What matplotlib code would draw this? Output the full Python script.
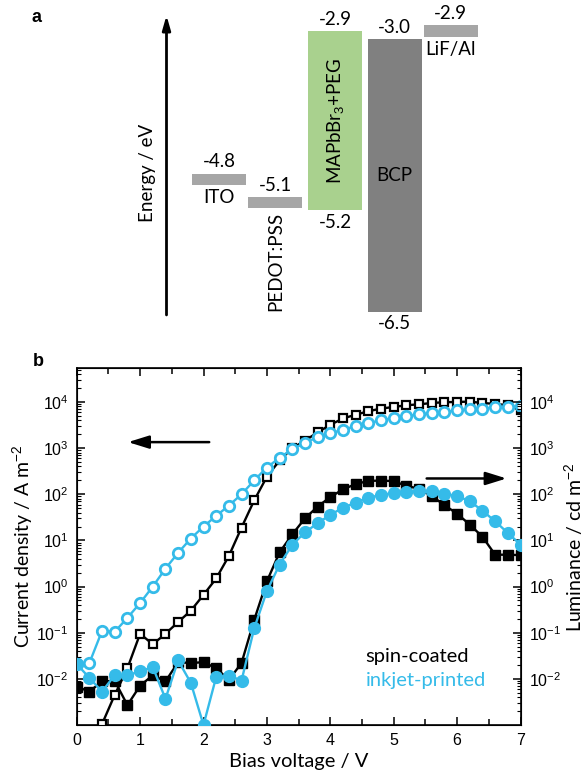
import numpy as np
import matplotlib
matplotlib.use("Agg")
import matplotlib.pyplot as plt
from matplotlib.ticker import LogLocator, NullFormatter, MultipleLocator

# panel a: energy levels (eV)
layers = ['ITO', 'PEDOT:PSS', 'MAPbBr$_3$+PEG', 'BCP', 'LiF/Al']
e_upper = [-4.8, -5.1, -2.9, -3.0, -2.9]
e_lower = [-4.8, -5.1, -5.2, -6.5, -2.9]

# panel b: bias voltage (V)
bias = [0.0, 0.2, 0.4, 0.6, 0.8, 1.0, 1.2, 1.4, 1.6, 1.8, 2.0, 2.2,
        2.4, 2.6, 2.8, 3.0, 3.2, 3.4, 3.6, 3.8, 4.0, 4.2, 4.4, 4.6,
        4.8, 5.0, 5.2, 5.4, 5.6, 5.8, 6.0, 6.2, 6.4, 6.6, 6.8, 7.0]

# current density (A m-2)
j_spin = [np.nan, np.nan, 1.05e-3, 4.5e-3, 0.017, 0.095, 0.056, 0.095, 0.17, 0.30,
          0.66, 1.5, 4.6, 19, 74, 240, 540, 1000, 1450, 2200, 3200, 4400,
          5300, 6300, 7200, 7800, 8500, 8900, 9500, 9900, 10000, 10200, 9500,
          9100, 8500, 6600]
j_inkjet = [0.021, 0.022, 0.11, 0.105, 0.21, 0.44, 1.0, 2.45, 5.4, 11, 20, 34,
            57, 100, 200, 380, 620, 950, 1290, 1740, 2100, 2500, 3000, 3500,
            4000, 4500, 4900, 5400, 5750, 6000, 6600, 6900, 7200, 7600, 7800, 8100]

# luminance (cd m-2)
lum_spin = [0.0068, 0.0053, 0.0088, 0.0090, 0.0027, 0.0071, 0.012, 0.0088, 0.023,
            0.022, 0.023, 0.017, 0.0095, 0.022, 0.19, 1.3, 5.5, 13.5, 30, 54, 87,
            128, 166, 195, 198, 193, 152, 132, 92, 58, 38, 22, 12, 4.9, 4.9, 4.8]
lum_inkjet = [0.021, 0.0105, 0.0053, 0.012, 0.012, 0.0145, 0.018, 0.0037, 0.025,
              0.0082, 0.001, 0.011, 0.0118, 0.0092, 0.125, 0.8, 3.0, 8.0, 15, 23.5,
              36, 51, 66, 85, 96, 107, 114, 118, 120, 103, 91, 71, 44, 26, 14.5, 8.1]

BLUE = '#35bbe9'
LABEL_FONT = 'Lato'
TICK_FONT = 'Liberation Sans'

plt.rcParams['mathtext.fontset'] = 'custom'
plt.rcParams['mathtext.rm'] = TICK_FONT
plt.rcParams['mathtext.it'] = TICK_FONT + ':italic'
plt.rcParams['mathtext.bf'] = TICK_FONT + ':bold'


def draw_band_diagram(fig):
    # axes spans top 330 px; y in eV, x in pixel columns
    ax = fig.add_axes([0, 1 - 330 / 777, 1, 330 / 777])
    ax.set_xlim(0, 584)
    ax.set_ylim(-6.733, -2.503)
    ax.axis('off')

    centers = [219, 275.4, 335, 394.6, 450.6]
    colors = ['#a6a6a6', '#a6a6a6', '#a9d18e', '#808080', '#a6a6a6']
    thin = 0.145
    gap = 0.15
    fs = 13.5

    for i, name in enumerate(layers):
        up, lo = e_upper[i], e_lower[i]
        if up == lo:
            top, bottom = up + thin / 2, lo - thin / 2
        else:
            top, bottom = up, lo
        ax.bar(centers[i], top - bottom, bottom=bottom, width=54,
               color=colors[i], edgecolor='none')
        ax.text(centers[i], top + gap, f'{up:.1f}', ha='center', va='center',
                fontsize=fs, family=LABEL_FONT)
        if up != lo:
            ax.text(centers[i], bottom - gap, f'{lo:.1f}', ha='center', va='center',
                    fontsize=fs, family=LABEL_FONT)

    # layer names
    ax.text(centers[0], e_lower[0] - thin / 2 - 0.16, layers[0], ha='center',
            va='center', fontsize=fs, family=LABEL_FONT)
    ax.text(centers[1], e_lower[1] - thin / 2 - 0.05, layers[1], ha='center',
            va='top', rotation=90, fontsize=fs, family=LABEL_FONT)
    ax.text(centers[2], (e_upper[2] + e_lower[2]) / 2, layers[2], ha='center',
            va='center', rotation=90, fontsize=fs, family=LABEL_FONT)
    ax.text(centers[3], (e_upper[3] + e_lower[3]) / 2, layers[3], ha='center',
            va='center', fontsize=fs, family=LABEL_FONT)
    ax.text(centers[4], e_lower[4] - thin / 2 - 0.17, layers[4], ha='center',
            va='center', fontsize=fs, family=LABEL_FONT)

    # energy axis arrow
    ax.annotate('', xy=(166.5, -2.70), xytext=(166.5, -6.54),
                arrowprops=dict(arrowstyle='-|>,head_length=0.7,head_width=0.2',
                                color='k', lw=2, mutation_scale=12, shrinkA=0, shrinkB=0))
    ax.text(147, -4.72, 'Energy / eV', rotation=90, ha='center', va='center',
            fontsize=fs, family=LABEL_FONT)
    ax.text(37, -2.733, 'a', ha='center', va='center', fontsize=13,
            fontweight='bold', family=TICK_FONT)


def style_log_axis(ax):
    ax.set_yscale('log')
    ax.set_ylim(1e-3, 10 ** 4.73)
    ax.set_yticks([1e-2, 1e-1, 1, 1e1, 1e2, 1e3, 1e4])
    ax.yaxis.set_minor_locator(LogLocator(base=10, subs=np.arange(2, 10), numticks=20))
    ax.yaxis.set_minor_formatter(NullFormatter())
    ax.tick_params(axis='y', which='major', direction='in', length=6, width=1.1,
                   labelsize=11.5, pad=6)
    ax.tick_params(axis='y', which='minor', direction='in', length=3, width=0.8)
    for lab in ax.get_yticklabels():
        lab.set_family(TICK_FONT)


def draw_jvl(fig):
    ax = fig.add_axes([76.7 / 584, 52 / 777, 443.8 / 584, 356.7 / 777])
    ax.plot(bias, j_spin, color='k', lw=1.7, marker='s', ms=6, mfc='white',
            mec='k', mew=1.6, zorder=3)
    ax.plot(bias, j_inkjet, color=BLUE, lw=1.7, marker='o', ms=7.5, mfc='white',
            mec=BLUE, mew=2.0, zorder=4)
    ax.set_xlim(0, 7)
    style_log_axis(ax)
    ax.xaxis.set_major_locator(MultipleLocator(1))
    ax.xaxis.set_minor_locator(MultipleLocator(0.5))
    ax.tick_params(axis='x', which='both', direction='in', top=True, width=1.1,
                   labelsize=11.5, pad=6)
    ax.tick_params(axis='x', which='major', length=6)
    ax.tick_params(axis='x', which='minor', length=4)
    for lab in ax.get_xticklabels():
        lab.set_family(TICK_FONT)
    for sp in ax.spines.values():
        sp.set_linewidth(1.2)
    ax.set_xlabel('Bias voltage / V', fontsize=14.5, family=LABEL_FONT, labelpad=3)
    ax.set_ylabel('Current density / A m$^{-2}$', fontsize=14, family=LABEL_FONT,
                  labelpad=1)

    ax2 = ax.twinx()
    ax2.plot(bias, lum_spin, color='k', lw=1.7, marker='s', ms=6.5, zorder=3)
    ax2.plot(bias, lum_inkjet, color=BLUE, lw=1.7, marker='o', ms=8.5, zorder=4)
    style_log_axis(ax2)
    ax2.set_ylabel('Luminance / cd m$^{-2}$', fontsize=14, family=LABEL_FONT,
                   labelpad=1)

    # direction arrows
    ax.annotate('', xy=(0.81, 1350), xytext=(2.09, 1350),
                arrowprops=dict(arrowstyle='-|>,head_length=0.9,head_width=0.28',
                                color='k', lw=1.8, mutation_scale=14,
                                shrinkA=0, shrinkB=0))
    ax2.annotate('', xy=(6.78, 220), xytext=(5.52, 220),
                 arrowprops=dict(arrowstyle='-|>,head_length=0.9,head_width=0.28',
                                 color='k', lw=1.8, mutation_scale=14,
                                 shrinkA=0, shrinkB=0))

    ax2.text(0.651, 0.191, 'spin-coated', transform=ax2.transAxes, color='k',
             fontsize=14.5, family=LABEL_FONT, va='center', ha='left')
    ax2.text(0.651, 0.126, 'inkjet-printed', transform=ax2.transAxes, color=BLUE,
             fontsize=14.5, family=LABEL_FONT, va='center', ha='left')
    fig.text(38 / 584, 1 - 362 / 777, 'b', ha='center', va='center', fontsize=13,
             fontweight='bold', family=TICK_FONT)


def main():
    fig = plt.figure(figsize=(5.84, 7.77), dpi=100)
    draw_band_diagram(fig)
    draw_jvl(fig)
    fig.savefig('out.png', dpi=100)
    plt.close(fig)


if __name__ == "__main__":
    main()
